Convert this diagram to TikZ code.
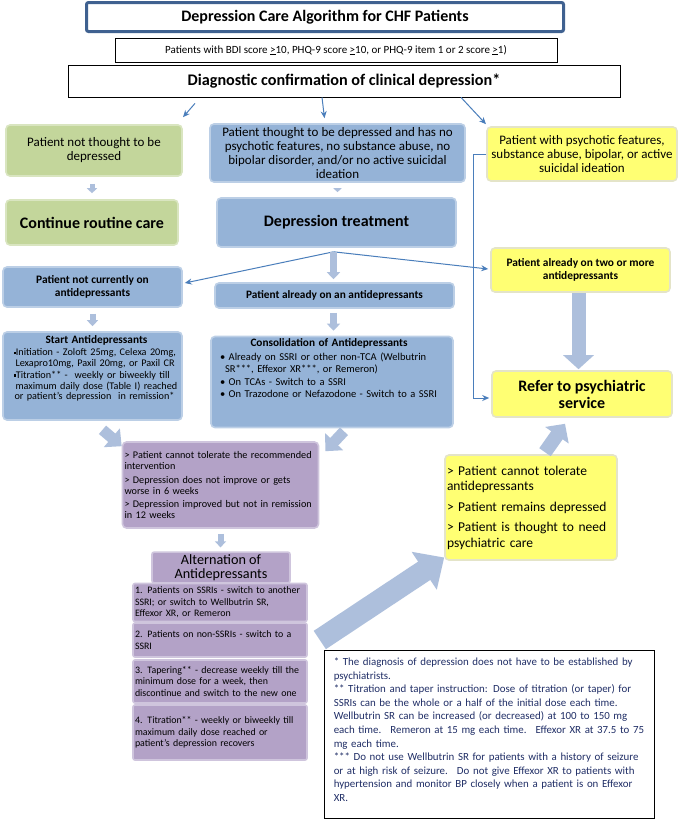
\documentclass[tikz,border=0pt]{standalone}
\usepackage{fontspec}
\setmainfont{Carlito}
\usetikzlibrary{arrows.meta,calc}
\definecolor{gfill}{HTML}{C3D69B}
\definecolor{gline}{HTML}{D9E5C0}
\definecolor{bfill}{HTML}{95B3D7}
\definecolor{bline}{HTML}{BCCFE6}
\definecolor{yfill}{HTML}{FFFF73}
\definecolor{yline}{HTML}{E4E4C8}
\definecolor{pfill}{HTML}{B3A2C7}
\definecolor{pline}{HTML}{CFC5DD}
\definecolor{fatc}{HTML}{ADBFDC}
\definecolor{thinc}{HTML}{4A7EBB}
\definecolor{titleline}{HTML}{3F6190}
\definecolor{notec}{HTML}{202E66}
\newcommand\sqb{\raisebox{1.4pt}{\rule{2.4pt}{2.4pt}}}
\newcommand\fs[2]{\fontsize{#1}{#2}\selectfont}
\begin{document}
\begin{tikzpicture}[x=1pt,y=-1pt,
  base/.style={rounded corners=4pt, line width=1.6pt, inner sep=2pt, align=center, text=black},
  gbox/.style={base, fill=gfill, draw=gline},
  bbox/.style={base, fill=bfill, draw=bline},
  ybox/.style={base, fill=yfill, draw=yline},
  pbox/.style={base, fill=pfill, draw=pline},
  pitem/.style={pbox, rounded corners=2pt, align=left, text width=170pt, font=\fs{9.9}{11.5}},
  plain/.style={draw=black, line width=0.8pt, fill=white, inner sep=2pt, align=center},
  fat/.style={draw=fatc, line cap=butt},
  thinarr/.style={draw=thinc, line width=1pt, -{Stealth[length=7pt,width=6pt]}}
]
\useasboundingbox (0,0) rectangle (678,820);
\fill[white] (0,0) rectangle (678,820);

% top
\node[draw=titleline, line width=3pt, rounded corners=2pt, fill=white, minimum width=477pt, minimum height=29pt, font=\fs{16}{18}\bfseries] (title) at (325,17)
  {Depression Care Algorithm for CHF Patients};
\node[plain, minimum width=442pt, minimum height=24pt, font=\fs{11}{13}] (sub) at (336,50)
  {Patients with BDI score \underline{>}10, PHQ-9 score \underline{>}10, or PHQ-9 item 1 or 2 score \underline{>}1)};
\node[plain, minimum width=552pt, minimum height=32pt, font=\fs{16.2}{18}\bfseries] (diag) at (344,81)
  {Diagnostic confirmation of clinical depression*};

% second row
\node[gbox, minimum width=176pt, minimum height=51pt, font=\fs{13}{14}] (g1) at (94,150.5)
  {Patient not thought to be\\depressed};
\node[bbox, minimum width=255pt, minimum height=58pt, font=\fs{13}{13.7}] (b1) at (337.5,153)
  {Patient thought to be depressed and has no\\psychotic features, no substance abuse, no\\bipolar disorder, and/or no active suicidal\\ideation};
\node[ybox, minimum width=190pt, minimum height=54pt, font=\fs{13}{14}] (y1) at (582,154)
  {Patient with psychotic features,\\substance abuse, bipolar, or active\\suicidal ideation};

\node[gbox, minimum width=172pt, minimum height=45pt, font=\fs{16}{18}\bfseries] (g2) at (92,222.5)
  {Continue routine care};
\node[bbox, minimum width=239pt, minimum height=49pt, font=\fs{16}{18}\bfseries] (b2) at (336.5,222.5)
  {Depression treatment};

\node[ybox, minimum width=179pt, minimum height=44pt, font=\fs{11.4}{12.8}\bfseries] (y2) at (580.5,270)
  {Patient already on two or more\\antidepressants};
\node[bbox, minimum width=179pt, minimum height=40pt, font=\fs{11.4}{12.8}\bfseries] (notcur) at (92.5,287)
  {Patient not currently on\\antidepressants};
\node[bbox, minimum width=239pt, minimum height=25pt, font=\fs{11.3}{13}\bfseries] (already) at (334.5,295.5)
  {Patient already on an antidepressants};

% start / consolidation
\node[bbox, minimum width=179pt, minimum height=88pt] (start) at (92.5,376) {};
\node[anchor=north, inner sep=0pt, align=left, text width=166pt, font=\fs{10.2}{10.8}] (starttext) at ([xshift=4pt,yshift=-4pt]start.north)
  {\makebox[166pt]{\fs{11.3}{12}\bfseries Start Antidepressants}\\[1.5pt]
   \sqb Initiation - Zoloft 25mg, Celexa 20mg,\\
   \hspace*{2pt}Lexapro10mg, Paxil 20mg, or Paxil CR\\[1pt]
   \sqb Titration** -~ weekly or biweekly till\\
   \hspace*{2pt}maximum daily dose (Table I) reached\\
   \hspace*{1pt}or patient’s depression~ in remission*};
\node[bbox, minimum width=242pt, minimum height=91pt] (consol) at (332,382) {};
\node[anchor=north, inner sep=0pt, align=left, text width=224pt, font=\fs{10.5}{11.5}] (consoltext) at ([yshift=-3pt]consol.north)
  {\makebox[218pt]{\fs{11.3}{12}\bfseries Consolidation of Antidepressants}\\[2.5pt]
   • Already on SSRI or other non-TCA (Welbutrin\\
   \hspace*{5pt}SR***, Effexor XR***, or Remeron)\\[1.2pt]
   • On TCAs - Switch to a SSRI\\[1.2pt]
   • On Trazodone or Nefazodone - Switch to a SSRI};

\node[ybox, minimum width=180pt, minimum height=46pt, font=\fs{16}{17}\bfseries] (refer) at (582,394)
  {Refer to psychiatric\\service};

% purple
\node[pbox, minimum width=195pt, minimum height=86pt, align=left, text width=192pt, font=\fs{10.2}{11}] (p1) at (220.5,485)
  {> Patient cannot tolerate the recommended\\intervention\\[2.5pt]
   > Depression does not improve or gets\\worse in 6 weeks\\[2.5pt]
   > Depression improved but not in remission\\in 12 weeks};
\node[ybox, minimum width=172pt, minimum height=105pt, align=left, text width=168pt, font=\fs{13.5}{15.8}] (y3) at (531,507.5)
  {> Patient cannot tolerate\\antidepressants\\[4.5pt]
   > Patient remains depressed\\[4.5pt]
   > Patient is thought to need\\psychiatric care};

\node[pbox, rounded corners=2pt, minimum width=138pt, minimum height=29pt, font=\fs{14.2}{14.5}] (althdr) at (221,567.5)
  {Alternation of\\Antidepressants};
\node[pitem, minimum width=170pt, minimum height=38pt] (alt1) at (220,602.5)
  {1. Patients on SSRIs - switch to another\\SSRI; or switch to Wellbutrin SR,\\Effexor XR, or Remeron};
\node[pitem, minimum width=170pt, minimum height=34pt] (alt2) at (220,640)
  {2. Patients on non-SSRIs - switch to a\\SSRI};
\node[pitem, minimum width=170pt, minimum height=43pt] (alt3) at (220,681.5)
  {3. Tapering** - decrease weekly till the\\minimum dose for a week, then\\discontinue and switch to the new one};
\node[pitem, minimum width=170pt, minimum height=55pt] (alt4) at (220,732.5)
  {4. Titration** - weekly or biweekly till\\maximum daily dose reached or\\patient’s depression recovers};

% notes
\node[draw=black, line width=0.9pt, fill=white, minimum width=330pt, minimum height=168pt] (notes) at (489,734) {};
\node[anchor=north west, inner sep=0pt, align=left, text width=322pt, text=notec, font=\fs{10.9}{13.6}] (notetext) at ([xshift=10pt,yshift=-8pt]notes.north west)
  {* The diagnosis of depression does not have to be established by\\
   psychiatrists.\\{}** Titration and taper instruction: Dose of titration (or taper) for\\
   SSRIs can be the whole or a half of the initial dose each time.\\
   Wellbutrin SR can be increased (or decreased) at 100 to 150 mg\\
   each time.~ Remeron at 15 mg each time.~ Effexor XR at 37.5 to 75\\
   mg each time.\\{}*** Do not use Wellbutrin SR for patients with a history of seizure\\
   or at high risk of seizure.~ Do not give Effexor XR to patients with\\
   hypertension and monitor BP closely when a patient is on Effexor\\
   XR.};

% thin arrows
\draw[thinarr] ([xshift=-149pt,yshift=-6pt]diag.south) -- ([xshift=89pt,yshift=7pt]g1.north);
\draw[thinarr] ([xshift=-22pt]diag.south) -- ([xshift=-13pt,yshift=5pt]b1.north);
\draw[thinarr] ([xshift=117pt]diag.south) -- ([xshift=-96pt,yshift=2pt]y1.north);
\draw[thinarr] ([xshift=-3pt,yshift=-4pt]b2.south) -- ([xshift=2pt,yshift=4pt]notcur.east);
\draw[thinarr] ([xshift=-3pt,yshift=-4pt]b2.south) -- ([xshift=-2pt,yshift=1pt]y2.west);
\draw[thinarr] (y1.west) -- ++(-13,0) |- ([xshift=-2pt,yshift=-4pt]refer.west);

% fat arrows
\draw[fat, line width=5pt, -{Triangle[width=10pt,length=5pt]}, shorten <=7pt, shorten >=6pt] (g2.north |- g1.south) -- (g2.north);
\draw[fat, line width=4pt, -{Triangle[width=8pt,length=4pt]}, shorten <=6pt, shorten >=5pt] (b1.south) -- (b1.south |- b2.north);
\draw[fat, line width=7pt, -{Triangle[width=13pt,length=7pt]}, shorten <=4pt, shorten >=3pt] ([xshift=-3pt]b2.south) -- ([xshift=-3pt]b2.south |- already.north);
\draw[fat, line width=6pt, -{Triangle[width=11pt,length=6pt]}, shorten <=6pt, shorten >=5pt] (notcur.south) -- (notcur.south |- start.north);
\draw[fat, line width=7pt, -{Triangle[width=13pt,length=7pt]}, shorten <=4pt, shorten >=5pt] ([xshift=-1pt]already.south) -- ([xshift=-1pt]already.south |- consol.north);
\draw[fat, line width=11pt, -{Triangle[width=24pt,length=13pt]}] ([xshift=10pt,yshift=-9pt]start.south) -- ([xshift=0pt,yshift=-5pt]p1.north west);
\draw[fat, line width=11pt, -{Triangle[width=24pt,length=13pt]}] ([xshift=12pt,yshift=-3pt]consol.south) -- ([xshift=6pt,yshift=-10pt]p1.north east);
\draw[fat, line width=6pt, -{Triangle[width=11pt,length=6pt]}, shorten <=5pt, shorten >=4pt] (p1.south) -- (p1.south |- althdr.north);
\draw[fat, line width=14pt, -{Triangle[width=30pt,length=14pt]}, shorten >=1pt] ([xshift=-2pt]y2.south) -- ([xshift=-2pt]y2.south |- refer.north);
\draw[fat, line width=14pt, -{Triangle[width=28pt,length=14pt]}] ([xshift=14pt,yshift=2pt]y3.north) -- ([xshift=-17pt,yshift=-6pt]refer.south);
\draw[fat, line width=22pt, -{Triangle[width=44pt,length=24pt]}] ([xshift=12pt]alt2.east) -- ([yshift=-50pt]y3.west);
\end{tikzpicture}
\end{document}
